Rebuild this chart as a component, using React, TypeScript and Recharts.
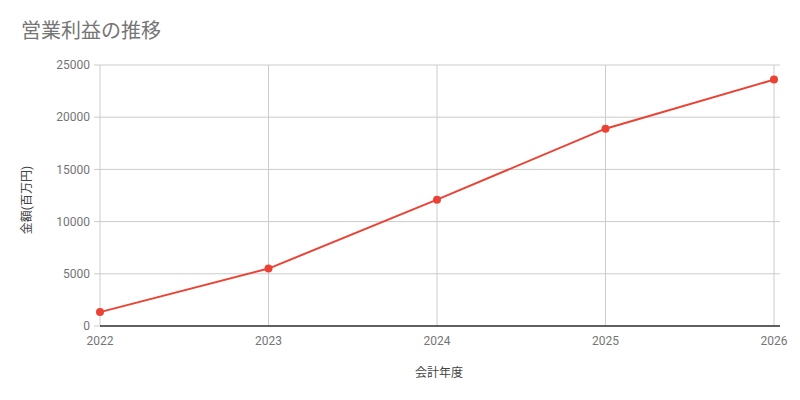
import { LineChart, Line, XAxis, YAxis, CartesianGrid } from "recharts";
import type { CSSProperties } from "react";

const years = ["2022", "2023", "2024", "2025", "2026"];
const profit = [1330, 5500, 12100, 18900, 23600];
const yTicks = [0, 5000, 10000, 15000, 20000, 25000];

const data = years.map((year, i) => ({ year, profit: profit[i] }));

const FONT = "Roboto, 'Noto Sans CJK JP', sans-serif";
const RED = "#ea4335";

// vertical grid only at the year ticks (not at the padded right edge)
const yearGridLines = (props: any) => {
  const scale = props?.xAxis?.scale;
  if (!scale) return [];
  const fn = typeof scale.map === "function" ? (v: string) => scale.map(v) : scale;
  return years.map((y) => fn(y)).filter((v: any) => typeof v === "number");
};

export default function App() {
  return (
    <div style={page}>
      <div style={title}>営業利益の推移</div>
      <LineChart
        width={800}
        height={400}
        data={data}
        margin={{ top: 65, right: 20, bottom: 44, left: 40 }}
      >
        <CartesianGrid stroke="#cccccc" strokeWidth={1} verticalCoordinatesGenerator={yearGridLines} />
        <XAxis
          dataKey="year"
          height={30}
          padding={{ left: 0, right: 6 }}
          axisLine={{ stroke: "#333333", strokeWidth: 1.5 }}
          tickLine={false}
          tick={{ fontFamily: FONT, fontSize: 12, fill: "#757575" }}
          tickMargin={4}
        />
        <YAxis
          width={60}
          domain={[0, 25000]}
          ticks={yTicks}
          axisLine={false}
          tickLine={{ stroke: "#cccccc" }}
          tickSize={6}
          tick={{ fontFamily: FONT, fontSize: 12, fill: "#757575" }}
          tickMargin={4}
        />
        <Line
          type="linear"
          dataKey="profit"
          stroke={RED}
          strokeWidth={2}
          dot={{ r: 4, fill: RED, stroke: RED, strokeWidth: 0 }}
          isAnimationActive={false}
        />
      </LineChart>
      <div style={xLabel}>会計年度</div>
      <div style={yLabel}>金額(百万円)</div>
    </div>
  );
}

const page: CSSProperties = {
  position: "absolute",
  left: 0,
  top: 0,
  width: 800,
  height: 400,
  background: "#ffffff",
};

const title: CSSProperties = {
  position: "absolute",
  left: 21,
  top: 19,
  fontFamily: FONT,
  fontSize: 20,
  color: "#757575",
  lineHeight: "24px",
};

const xLabel: CSSProperties = {
  position: "absolute",
  left: 339,
  width: 200,
  top: 365,
  textAlign: "center",
  fontFamily: FONT,
  fontSize: 12,
  color: "#444444",
  lineHeight: "16px",
};

const yLabel: CSSProperties = {
  position: "absolute",
  left: 27 - 100,
  top: 200 - 8,
  width: 200,
  textAlign: "center",
  transform: "rotate(-90deg)",
  fontFamily: FONT,
  fontSize: 12,
  color: "#444444",
  lineHeight: "16px",
};
